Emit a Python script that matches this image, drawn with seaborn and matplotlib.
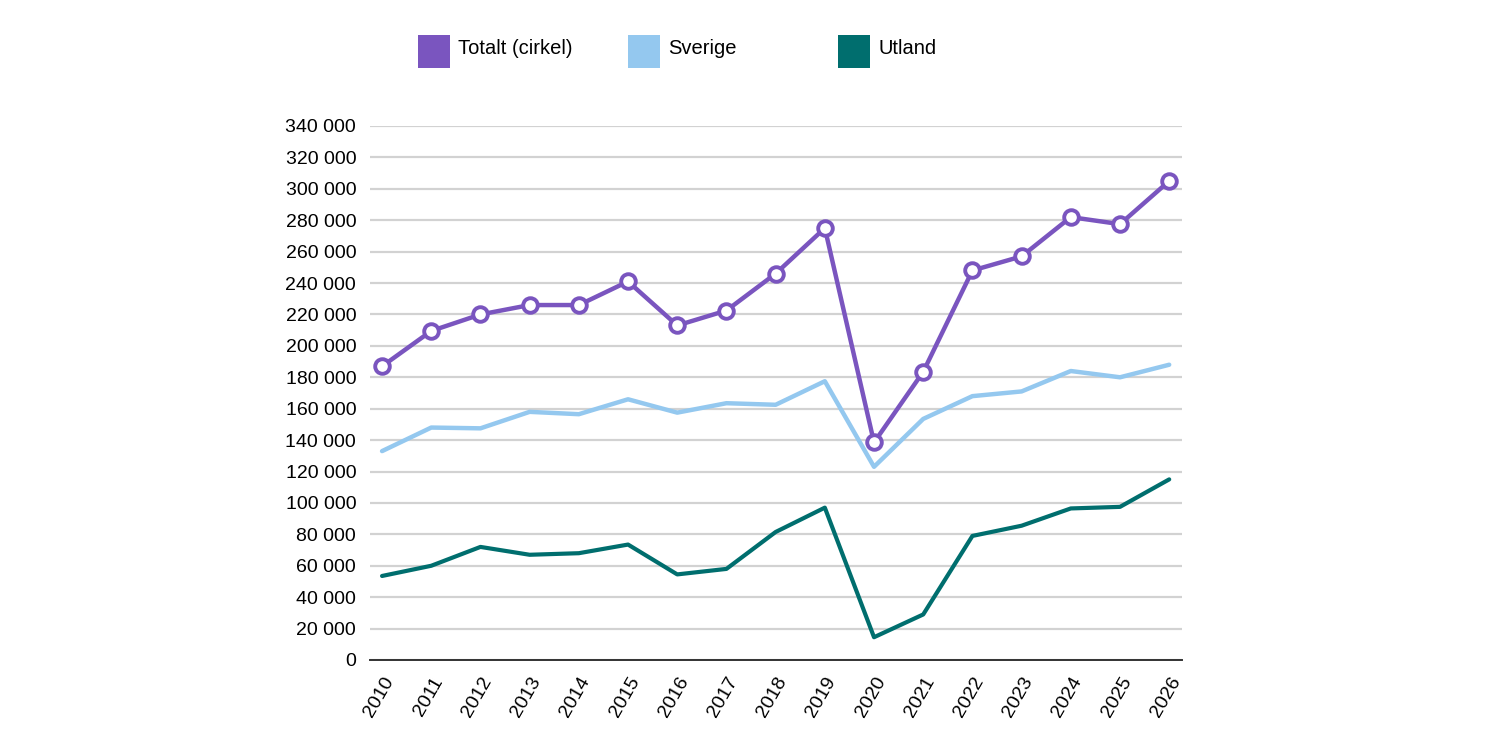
import seaborn as sns
import matplotlib
matplotlib.use("Agg")
import matplotlib.pyplot as plt
from matplotlib.patches import Rectangle
from matplotlib.ticker import FuncFormatter
import pandas as pd

years = list(range(2010, 2027))
totalt = [187000, 209500, 220000, 226000, 226000, 241000, 213000, 222500, 246000,
          275000, 138500, 183500, 248000, 257000, 282000, 277500, 305000]
sverige = [133000, 148000, 147500, 158000, 156500, 166000, 157500, 163500, 162500,
           177500, 123000, 153500, 168000, 171000, 184000, 180000, 188000]
utland = [53500, 60000, 72000, 67000, 68000, 73500, 54500, 58000, 81500,
          97000, 14500, 29000, 79000, 85500, 96500, 97500, 115000]

series_names = ["Totalt (cirkel)", "Sverige", "Utland"]
colors = ["#7a55bf", "#94c8ef", "#006e6e"]

df = pd.DataFrame({"year": years, "Totalt (cirkel)": totalt,
                   "Sverige": sverige, "Utland": utland})

sns.set_style("white")
plt.rcParams["font.family"] = ["Liberation Sans", "DejaVu Sans"]

fig = plt.figure(figsize=(15, 7.5), dpi=100)
ax = fig.add_axes([0.2467, 0.12, 0.5413, 0.712])

ax.yaxis.grid(True, color="#d2d2d2", linewidth=1.6)
ax.set_axisbelow(True)

sns.lineplot(data=df, x="year", y="Utland", color=colors[2], linewidth=3.0, ax=ax)
sns.lineplot(data=df, x="year", y="Sverige", color=colors[1], linewidth=3.2, ax=ax)
sns.lineplot(data=df, x="year", y="Totalt (cirkel)", color=colors[0], linewidth=3.2,
             marker="o", markersize=10.5, markerfacecolor="white",
             markeredgecolor=colors[0], markeredgewidth=2.8, ax=ax)

ax.set_xlim(2009.756, 2026.26)
ax.set_ylim(0, 340000)
ax.set_yticks(range(0, 340001, 20000))
ax.yaxis.set_major_formatter(FuncFormatter(lambda v, p: f"{int(v):,}".replace(",", " ")))
ax.set_xticks(years)
ax.set_xticklabels([str(y) for y in years], rotation=60, ha="right",
                   rotation_mode="anchor")
ax.tick_params(axis="x", length=6, width=1.2, color="#333333", labelsize=14,
               labelcolor="black", pad=4)
ax.tick_params(axis="y", length=0, labelsize=14, labelcolor="black", pad=10)
ax.set_xlabel("")
ax.set_ylabel("")

for s in ["top", "right", "left"]:
    ax.spines[s].set_visible(False)
ax.spines["bottom"].set_color("#333333")
ax.spines["bottom"].set_linewidth(1.4)

# legend: square swatches with labels
legend_x = [418, 628, 838]
for name, col, lx in zip(series_names, colors, legend_x):
    fig.patches.append(Rectangle((lx / 1500, 1 - 68 / 750), 32 / 1500, 33 / 750,
                                 transform=fig.transFigure, facecolor=col,
                                 edgecolor="none"))
    fig.text((lx + 40) / 1500, 1 - 49 / 750, name, fontsize=14.5, va="center",
             ha="left", color="black")

fig.savefig("out.png", dpi=100, facecolor="white")
